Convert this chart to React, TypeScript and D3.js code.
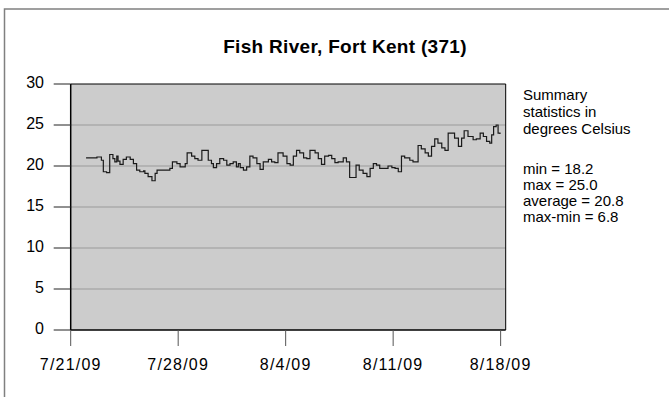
import React from "react";
import * as d3 from "d3";

const title = "Fish River, Fort Kent (371)";
const startDate = new Date(2009, 6, 21);
const xTickLabels = ["7/21/09", "7/28/09", "8/4/09", "8/11/09", "8/18/09"];
const xTickDays = [0, 7, 14, 21, 28];
const yTicks = [0, 5, 10, 15, 20, 25, 30];
const statsLines = ["Summary", "statistics in", "degrees Celsius"];
const statsValues = ["min = 18.2", "max = 25.0", "average = 20.8", "max-min = 6.8"];

// hours since 7/21/09 00:00
const hours = [
  24, 41, 48, 51, 56, 61, 66, 69, 72, 74, 77, 82, 87, 93, 98, 103, 108, 114, 116, 121,
  127, 132, 135, 145, 150, 155, 159, 166, 171, 179, 182, 189, 194, 199, 205, 210, 215, 220, 223, 228,
  233, 239, 244, 249, 254, 259, 262, 265, 270, 275, 280, 285, 291, 296, 301, 309, 314, 319, 324, 332,
  338, 343, 348, 353, 358, 364, 369, 374, 382, 387, 392, 397, 403, 408, 413, 418, 426, 431, 436, 442,
  446, 451, 457, 463, 468, 473, 478, 483, 491, 496, 502, 507, 512, 517, 522, 530, 535, 543, 548, 554,
  559, 564, 569, 574, 580, 585, 590, 595, 600, 606, 611, 615, 621, 629, 634, 640, 645, 650, 655, 658,
  661, 665, 668, 671,
];
const temps = [
  21.0, 21.1, 20.7, 19.3, 19.2, 21.4, 20.9, 20.5, 21.2, 20.6, 20.2, 20.8, 21.1, 20.8, 20.3, 19.5, 19.3, 19.4, 19.1, 18.7,
  18.2, 19.1, 19.5, 19.5, 19.5, 19.7, 20.5, 20.3, 19.9, 20.3, 21.6, 21.2, 20.9, 20.7, 21.9, 21.9, 20.7, 20.3, 19.8, 20.3,
  20.9, 20.7, 20.1, 20.3, 20.5, 19.9, 20.3, 19.8, 19.5, 19.9, 21.2, 21.0, 20.3, 19.6, 20.5, 20.8, 20.5, 20.4, 21.6, 21.2,
  20.3, 20.1, 21.2, 21.9, 21.6, 21.0, 20.9, 21.9, 21.6, 20.9, 20.2, 21.2, 21.3, 20.9, 20.4, 20.5, 21.0, 20.5, 18.6, 18.6,
  20.1, 19.5, 19.1, 18.7, 19.7, 20.3, 20.1, 19.7, 19.7, 20.0, 19.8, 19.7, 19.3, 21.2, 21.0, 20.7, 20.5, 22.5, 22.1, 21.6,
  21.2, 22.4, 23.3, 22.8, 22.2, 21.9, 24.0, 24.0, 23.4, 22.4, 23.4, 24.3, 23.6, 23.2, 23.3, 24.0, 23.6, 23.0, 22.8, 23.8,
  24.8, 25.0, 24.0, 23.9,
];

const W = 669;
const H = 397;
const plot = { left: 70.7, right: 505.7, top: 84, bottom: 330 };
const FONT = "'Liberation Sans', Arial, sans-serif";

export default function App() {
  const dayMs = 86400000;
  const x = d3
    .scaleTime()
    .domain([startDate, new Date(startDate.getTime() + 28.33 * dayMs)])
    .range([plot.left, plot.right]);
  const y = d3.scaleLinear().domain([0, 30]).range([plot.bottom, plot.top]);

  const data = hours.map((h, i) => ({ t: new Date(startDate.getTime() + h * 3600000), v: temps[i] }));
  const line = d3
    .line<{ t: Date; v: number }>()
    .x((d) => x(d.t))
    .y((d) => y(d.v))
    .curve(d3.curveStepAfter);

  return (
    <svg
      width={W}
      height={H}
      style={{ position: "absolute", left: 0, top: 0, display: "block", background: "#fff" }}
      fontFamily={FONT}
    >
      <rect x={4.5} y={9} width={720} height={420} fill="#fff" stroke="#808080" strokeWidth={1.5} />
      <text x={345} y={48} textAnchor="middle" dominantBaseline="middle" fontSize={19} fontWeight="bold" letterSpacing={0.3} fill="#000">
        {title}
      </text>
      <rect
        x={plot.left}
        y={plot.top}
        width={plot.right - plot.left}
        height={plot.bottom - plot.top}
        fill="#cccccc"
      />
      {yTicks.slice(1, -1).map((t) => (
        <line key={t} x1={plot.left} x2={plot.right} y1={y(t)} y2={y(t)} stroke="#9a9a9a" strokeWidth={1} />
      ))}
      <path d={line(data) || ""} fill="none" stroke="#1a1a1a" strokeWidth={1.2} />
      <line x1={plot.left} x2={plot.right} y1={plot.top} y2={plot.top} stroke="#000" strokeWidth={1} />
      <line x1={plot.right} x2={plot.right} y1={plot.top} y2={plot.bottom} stroke="#000" strokeWidth={1} />
      <line x1={plot.left} x2={plot.right} y1={plot.bottom} y2={plot.bottom} stroke="#000" strokeWidth={1.5} />
      <line x1={plot.left} x2={plot.left} y1={plot.top} y2={plot.bottom} stroke="#000" strokeWidth={1.5} />
      {yTicks.map((t) => (
        <g key={t}>
          <line x1={plot.left - 17} x2={plot.left} y1={y(t)} y2={y(t)} stroke="#222" strokeWidth={1} />
          <text x={44} y={y(t)} textAnchor="end" dominantBaseline="middle" fontSize={16} fill="#000">
            {t}
          </text>
        </g>
      ))}
      {xTickDays.map((d, i) => {
        const px = x(new Date(startDate.getTime() + d * dayMs));
        return (
          <g key={d}>
            <line x1={px} x2={px} y1={plot.bottom} y2={plot.bottom + 16} stroke="#555" strokeWidth={1} />
            <text x={px} y={366} textAnchor="middle" dominantBaseline="middle" fontSize={16} letterSpacing={1.2} fill="#000">
              {xTickLabels[i]}
            </text>
          </g>
        );
      })}
      {statsLines.map((s, i) => (
        <text key={s} x={523} y={96 + i * 17} dominantBaseline="middle" fontSize={15} fill="#000">
          {s}
        </text>
      ))}
      {statsValues.map((s, i) => (
        <text key={s} x={523} y={170 + i * 16} dominantBaseline="middle" fontSize={15} fill="#000">
          {s}
        </text>
      ))}
    </svg>
  );
}
